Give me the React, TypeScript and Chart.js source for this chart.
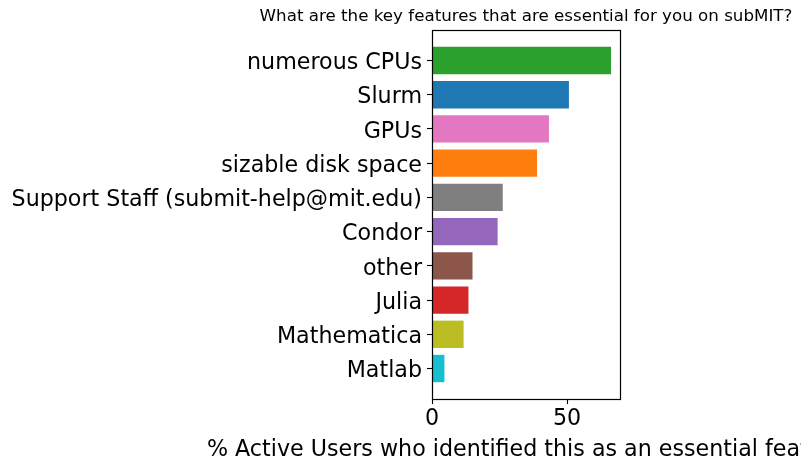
import React, { useEffect, useRef } from "react";
import { Chart, registerables } from "chart.js";

Chart.register(...registerables);

// bottom to top
const categories = [
  "Matlab",
  "Mathematica",
  "Julia",
  "other",
  "Condor",
  "Support Staff (submit-help@mit.edu)",
  "sizable disk space",
  "GPUs",
  "Slurm",
  "numerous CPUs",
];
const values = [4.6, 11.7, 13.5, 15.0, 24.3, 26.2, 38.9, 43.3, 50.7, 66.3];
const colors = [
  "#17becf",
  "#bcbd22",
  "#d62728",
  "#8c564b",
  "#9467bd",
  "#7f7f7f",
  "#ff7f0e",
  "#e377c2",
  "#1f77b4",
  "#2ca02c",
];
const xTicks = [0, 50];
const title = "What are the key features that are essential for you on subMIT?";
const xLabel = "% Active Users who identified this as an essential feature";

const FONT = "'DejaVu Sans', sans-serif";

export default function App() {
  const ref = useRef<HTMLCanvasElement | null>(null);

  useEffect(() => {
    document.body.style.margin = "0";
    const canvas = ref.current!;
    const xMax = Math.max(...values) * 1.05;
    const span = categories.length - 1 + 0.8;
    const yMin = -0.4 - 0.05 * span;
    const yMax = categories.length - 1 + 0.4 + 0.05 * span;

    const framePlugin = {
      id: "frame",
      afterDraw(chart: any) {
        const { ctx, chartArea } = chart;
        const { left, right, top, bottom } = chartArea;
        ctx.save();
        ctx.strokeStyle = "#000";
        ctx.lineWidth = 1.2;
        const l = Math.round(left) + 0.5;
        const r = Math.round(right) + 0.5;
        const t = Math.round(top) + 0.5;
        const b = Math.round(bottom) + 0.5;
        ctx.strokeRect(l, t, r - l, b - t);
        ctx.fillStyle = "#000";
        ctx.textAlign = "center";
        ctx.textBaseline = "alphabetic";
        const cx = (left + right) / 2;
        ctx.font = `16.7px ${FONT}`;
        ctx.fillText(title, cx, top - 9);
        ctx.font = `22.2px ${FONT}`;
        ctx.fillText(xLabel, cx, bottom + 57);
        ctx.restore();
      },
    };

    const chart = new Chart(canvas, {
      type: "bar",
      data: {
        datasets: [
          {
            data: values.map((v, i) => ({ x: v, y: i })),
            backgroundColor: colors,
            borderWidth: 0,
            categoryPercentage: 1,
            barPercentage: 0.8,
          },
        ],
      },
      options: {
        indexAxis: "y",
        animation: false,
        responsive: false,
        devicePixelRatio: 1,
        layout: { padding: { top: 30, right: 181, left: 0, bottom: 0 } },
        plugins: { legend: { display: false }, tooltip: { enabled: false } },
        scales: {
          x: {
            type: "linear",
            min: 0,
            max: xMax,
            offset: false,
            afterBuildTicks(scale: any) {
              scale.ticks = xTicks.map((v) => ({ value: v }));
            },
            afterFit(scale: any) {
              scale.height = 71;
            },
            grid: {
              offset: false,
              drawOnChartArea: false,
              drawTicks: true,
              tickLength: 5,
              tickWidth: 1.1,
              tickColor: "#000",
            },
            border: { display: false },
            ticks: {
              color: "#000",
              font: { family: FONT, size: 22.2 },
              padding: 2,
              maxRotation: 0,
            },
          },
          y: {
            type: "linear",
            min: yMin,
            max: yMax,
            offset: false,
            afterBuildTicks(scale: any) {
              scale.ticks = categories.map((_, i) => ({ value: i }));
            },
            afterFit(scale: any) {
              scale.width = 432;
            },
            grid: {
              offset: false,
              drawOnChartArea: false,
              drawTicks: true,
              tickLength: 5,
              tickWidth: 1.1,
              tickColor: "#000",
            },
            border: { display: false },
            ticks: {
              color: "#000",
              font: { family: FONT, size: 22.2 },
              padding: 5,
              labelOffset: 3,
              autoSkip: false,
              callback: (v: any) => categories[v as number] ?? "",
            },
          },
        },
      },
      plugins: [framePlugin],
    });
    return () => chart.destroy();
  }, []);

  return (
    <div style={{ width: 801, height: 470 }}>
      <canvas ref={ref} width={801} height={470} style={{ display: "block" }} />
    </div>
  );
}
